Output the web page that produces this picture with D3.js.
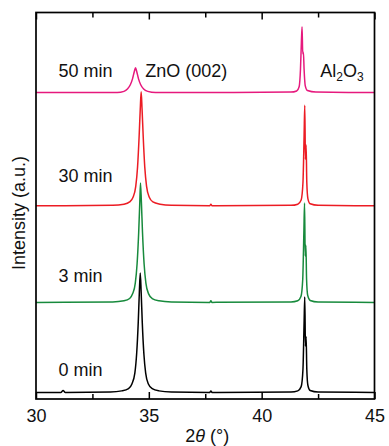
<!DOCTYPE html>
<html>
<head>
<meta charset="utf-8">
<script src="https://cdn.jsdelivr.net/npm/d3@7/dist/d3.min.js"></script>
<style>
  html, body { margin: 0; padding: 0; background: #fff; }
  svg { display: block; font-family: "Liberation Sans", Arial, sans-serif; }
</style>
</head>
<body>
<div id="chart"></div>
<script>
const width = 389;
const height = 446;
const margin = { top: 12.5, right: 14.5, bottom: 47, left: 36 };

// XRD scans, [2theta, intensity above own baseline]
const scan0 = [
  [30.0, 0], [31.1, 0], [31.2, 0.5], [31.3, 0], [33.3, 0.1], [33.8, 0.4], [34.1, 1.0],
  [34.25, 2.2], [34.38, 5], [34.46, 10], [34.53, 18], [34.58, 26], [34.62, 30.9],
  [34.66, 26], [34.71, 18], [34.78, 10], [34.86, 5], [34.98, 2.2], [35.15, 1.0],
  [35.45, 0.4], [36.0, 0.1], [37.7, 0], [37.75, 0.4], [37.8, 0], [41.3, 0.1],
  [41.6, 0.4], [41.75, 1.5], [41.83, 6], [41.88, 18], [41.91, 24.7], [41.94, 12],
  [41.97, 14.4], [42.0, 6], [42.05, 1.8], [42.15, 0.5], [42.5, 0.1], [45.0, 0],
];
const scan3 = [
  [30.0, 0], [33.4, 0.1], [33.9, 0.4], [34.15, 1.0], [34.28, 2.2], [34.4, 5],
  [34.48, 10], [34.55, 18], [34.6, 26], [34.63, 30.9], [34.67, 26], [34.72, 18],
  [34.79, 10], [34.87, 5], [34.99, 2.2], [35.15, 1.0], [35.45, 0.4], [36.0, 0.1],
  [37.7, 0], [37.75, 0.4], [37.8, 0], [41.3, 0.1], [41.6, 0.4], [41.74, 1.5],
  [41.82, 6], [41.87, 18], [41.9, 25.7], [41.93, 12], [41.96, 14.8], [41.99, 6],
  [42.04, 1.8], [42.15, 0.5], [42.5, 0.1], [45.0, 0],
];
const scan30 = [
  [30.0, 0], [33.4, 0.1], [33.9, 0.4], [34.15, 1.0], [34.3, 2.2], [34.42, 5],
  [34.5, 10], [34.57, 18], [34.62, 25], [34.66, 29.5], [34.7, 25], [34.75, 18],
  [34.82, 10], [34.9, 5], [35.02, 2.2], [35.18, 1.0], [35.5, 0.4], [36.0, 0.1],
  [37.7, 0], [37.75, 0.4], [37.8, 0], [41.3, 0.1], [41.6, 0.4], [41.75, 1.5],
  [41.83, 6], [41.88, 18], [41.91, 26], [41.94, 12], [41.97, 15.7], [42.0, 6],
  [42.05, 1.8], [42.15, 0.5], [42.5, 0.1], [45.0, 0],
];
const scan50 = [
  [30.0, 0], [33.6, 0], [33.9, 0.3], [34.05, 0.9], [34.18, 2], [34.28, 3.6],
  [34.36, 5.5], [34.41, 6.4], [34.46, 5.5], [34.54, 3.6], [34.64, 2], [34.77, 0.9],
  [34.95, 0.3], [35.3, 0], [41.3, 0.1], [41.55, 0.4], [41.66, 1.5], [41.72, 6],
  [41.76, 13], [41.79, 17], [41.82, 10], [41.85, 10.4], [41.88, 6], [41.93, 1.8],
  [42.03, 0.5], [42.4, 0.1], [45.0, 0],
];

const scanNames = ["0 min", "3 min", "30 min", "50 min"];
const scans = [scan0, scan3, scan30, scan50];
const offsets = [1.7, 25, 50, 79.3];
const colors = ["#000000", "#178a3c", "#ec1c24", "#e6197d"];

const xDomain = [30, 45];
const yDomain = [0, 100];
const majorTicks = [30, 35, 40, 45];
const minorTicks = [32.5, 37.5, 42.5];

// label anchors in data units
const nameAt = [[31.0, 5.95], [31.0, 30.3], [31.0, 56.2], [31.0, 83.4]];

const svg = d3.select("#chart")
  .append("svg")
  .attr("width", width)
  .attr("height", height);

const x = d3.scaleLinear()
  .domain(xDomain)
  .range([margin.left, width - margin.right]);

const y = d3.scaleLinear()
  .domain(yDomain)
  .range([height - margin.bottom, margin.top]);

svg.append("clipPath")
  .attr("id", "plot-clip")
  .append("rect")
  .attr("x", margin.left)
  .attr("y", margin.top)
  .attr("width", width - margin.left - margin.right)
  .attr("height", height - margin.top - margin.bottom);

const line = d3.line()
  .x((d) => x(d[0]))
  .y((d) => y(d[1]))
  .curve(d3.curveMonotoneX);

const plot = svg.append("g").attr("clip-path", "url(#plot-clip)");

scans.forEach((scan, i) => {
  plot.append("path")
    .datum(scan.map((d) => [d[0], d[1] + offsets[i]]))
    .attr("fill", "none")
    .attr("stroke", colors[i])
    .attr("stroke-width", 1.5)
    .attr("stroke-linejoin", "round")
    .attr("d", line);
});

// axes, ticks point inward
const bottom = height - margin.bottom;
svg.append("g")
  .attr("transform", `translate(0,${bottom})`)
  .call(d3.axisBottom(x).tickValues(majorTicks).tickSize(-7).tickPadding(10).tickFormat(d3.format("d")))
  .call((g) => g.select(".domain").remove());
svg.append("g")
  .attr("transform", `translate(0,${bottom})`)
  .call(d3.axisBottom(x).tickValues(minorTicks).tickSize(-5).tickFormat(""))
  .call((g) => g.select(".domain").remove());
svg.append("g")
  .attr("transform", `translate(0,${margin.top})`)
  .call(d3.axisTop(x).tickValues(majorTicks).tickSize(-7).tickFormat(""))
  .call((g) => g.select(".domain").remove());
svg.append("g")
  .attr("transform", `translate(0,${margin.top})`)
  .call(d3.axisTop(x).tickValues(minorTicks).tickSize(-5).tickFormat(""))
  .call((g) => g.select(".domain").remove());

svg.selectAll(".tick line").attr("stroke", "#000").attr("stroke-width", 1.5);
svg.selectAll(".tick text")
  .attr("font-size", 18)
  .attr("fill", "#111")
  .attr("font-family", "'Liberation Sans', Arial, sans-serif");

svg.append("rect")
  .attr("x", margin.left)
  .attr("y", margin.top)
  .attr("width", width - margin.left - margin.right)
  .attr("height", height - margin.top - margin.bottom)
  .attr("fill", "none")
  .attr("stroke", "#000")
  .attr("stroke-width", 1.7);

// series names
scanNames.forEach((name, i) => {
  svg.append("text")
    .attr("x", x(nameAt[i][0]))
    .attr("y", y(nameAt[i][1]))
    .attr("font-size", 18)
    .attr("fill", "#111")
    .text(name);
});

svg.append("text")
  .attr("x", x(34.84))
  .attr("y", y(83.4))
  .attr("font-size", 18)
  .attr("fill", "#111")
  .text("ZnO (002)");

const al = svg.append("text")
  .attr("x", x(42.6))
  .attr("y", y(83.4))
  .attr("font-size", 18)
  .attr("fill", "#111");
al.append("tspan").text("Al");
al.append("tspan").attr("font-size", 12).attr("dy", 4).text("2");
al.append("tspan").attr("dy", -4).text("O");
al.append("tspan").attr("font-size", 12).attr("dy", 4).text("3");

// axis titles
const xt = svg.append("text")
  .attr("x", (margin.left + width - margin.right) / 2 + 2)
  .attr("y", 442)
  .attr("text-anchor", "middle")
  .attr("font-size", 18)
  .attr("fill", "#111");
xt.append("tspan").text("2");
xt.append("tspan").attr("font-style", "italic").text("θ");
xt.append("tspan").text(" (°)");

svg.append("text")
  .attr("transform", `translate(25,${213}) rotate(-90)`)
  .attr("text-anchor", "middle")
  .attr("font-size", 18)
  .attr("fill", "#111")
  .text("Intensity (a.u.)");
</script>
</body>
</html>
